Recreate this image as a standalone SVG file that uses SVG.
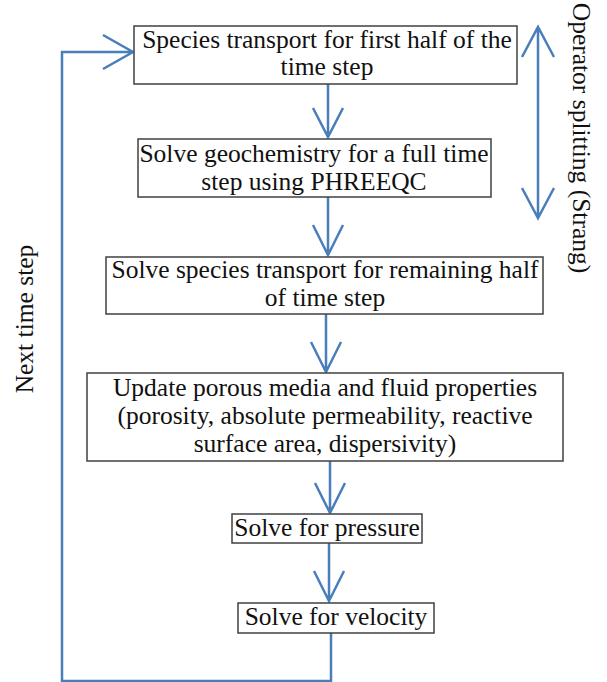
<svg xmlns="http://www.w3.org/2000/svg" width="607" height="682" viewBox="0 0 607 682">
<style>
.box{fill:#fff;stroke:#404040;stroke-width:1.5}
text{font-family:'Liberation Serif','DejaVu Serif',serif;font-size:25.5px;fill:#111;text-anchor:middle}
.c{fill:none;stroke:#4a7ebb;stroke-width:2.5;stroke-linejoin:miter}
</style>
<rect width="607" height="682" fill="#fff"/>
<g id="connectors">
<path class="c" d="M328,84 V137 M313,108 L328,137 L343,108"/>
<path class="c" d="M328,197 V255 M313,225 L328,255 L343,225"/>
<path class="c" d="M326,314 V372 M311,342 L326,372 L341,342"/>
<path class="c" d="M330,461 V513 M315,483 L330,513 L345,483"/>
<path class="c" d="M329,543 V601 M314,571 L329,601 L344,571"/>
<path class="c" d="M331,633 V681 H62 V52 H133 M103,35 L133,52 L103,69"/>
<path class="c" d="M538,27 V218 M522,57 L538,27 L554,57 M522,188 L538,218 L554,188"/>
</g>
<g id="n1"><rect class="box" x="134" y="26" width="383" height="58"/>
<text x="327" y="48">Species transport for first half of the</text>
<text x="327" y="75">time step</text></g>
<g id="n2"><rect class="box" x="138" y="139" width="353" height="58"/>
<text x="314" y="162">Solve geochemistry for a full time</text>
<text x="314" y="190">step using PHREEQC</text></g>
<g id="n3"><rect class="box" x="106" y="257" width="437" height="57"/>
<text x="325" y="278">Solve species transport for remaining half</text>
<text x="325" y="306">of time step</text></g>
<g id="n4"><rect class="box" x="87" y="373" width="476" height="88"/>
<text x="325" y="396">Update porous media and fluid properties</text>
<text x="325" y="424">(porosity, absolute permeability, reactive</text>
<text x="325" y="452">surface area, dispersivity)</text></g>
<g id="n5"><rect class="box" x="232" y="514" width="190" height="29"/>
<text x="327" y="536">Solve for pressure</text></g>
<g id="n6"><rect class="box" x="238" y="603" width="196" height="30"/>
<text x="336" y="625">Solve for velocity</text></g>
<g id="lbl-next"><text transform="translate(33,319) rotate(-90)">Next time step</text></g>
<g id="lbl-op"><text transform="translate(573,138) rotate(90)">Operator splitting (Strang)</text></g>
</svg>
